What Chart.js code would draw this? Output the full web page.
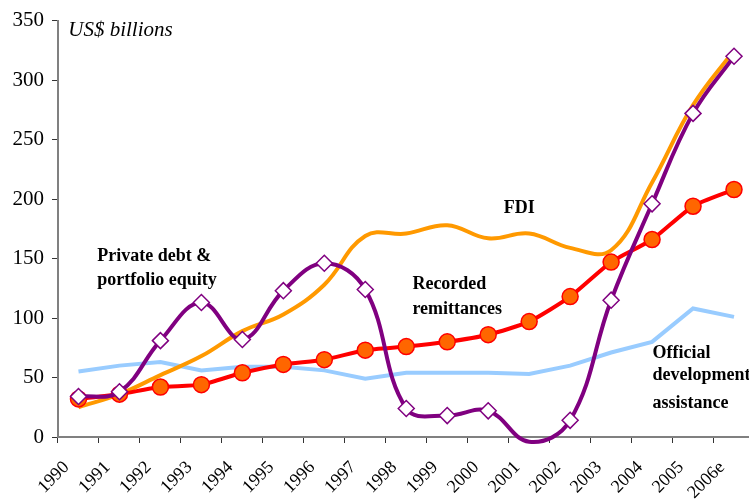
<!DOCTYPE html>
<html>
<head>
<meta charset="utf-8">
<script src="https://cdn.jsdelivr.net/npm/chart.js@4.4.1/dist/chart.umd.min.js"></script>
<style>
body { margin: 0; overflow: hidden; background: #fff; }
</style>
</head>
<body>
<canvas id="flowsChart" width="764" height="504"></canvas>
<script>
var years = ['1990', '1991', '1992', '1993', '1994', '1995', '1996', '1997', '1998', '1999', '2000', '2001', '2002', '2003', '2004', '2005', '2006e'];
var privateDebt = [34, 38, 81, 113, 82, 123, 146, 124, 24, 18, 22, -4, 14, 115, 196, 272, 320];
var remittances = [32, 36, 42, 44, 54, 61, 65, 73, 76, 80, 86, 97, 118, 147, 166, 194, 208];
var fdi = [25, 36, 52, 68, 89, 103, 128, 169, 171, 178, 167, 171, 159, 157, 214, 279, 325];
var oda = [55, 60, 63, 56, 59, 59, 56, 49, 54, 54, 54, 53, 60, 71, 80, 108, 101];
var yTicks = [0, 50, 100, 150, 200, 250, 300, 350];

// text labels placed in data units (category index, US$ billions)
var notes = [
    { text: 'US$ billions', x: -0.25, y: 337, font: "italic 21px 'Liberation Serif'" },
    { text: 'Private debt &', x: 0.46, y: 148 },
    { text: 'portfolio equity', x: 0.46, y: 128 },
    { text: 'FDI', x: 10.38, y: 188 },
    { text: 'Recorded', x: 8.15, y: 124 },
    { text: 'remittances', x: 8.15, y: 103 },
    { text: 'Official', x: 14.01, y: 66 },
    { text: 'development', x: 14.01, y: 48 },
    { text: 'assistance', x: 14.01, y: 24 }
];

var serif = "'Liberation Serif', 'Times New Roman', serif";

var notesPlugin = {
    id: 'notes',
    afterDatasetsDraw: function (chart) {
        var ctx = chart.ctx;
        var xs = chart.scales.x, ys = chart.scales.y;
        ctx.save();
        ctx.fillStyle = '#000';
        ctx.textAlign = 'left';
        ctx.textBaseline = 'alphabetic';
        notes.forEach(function (n) {
            ctx.font = n.font || ("bold 18px " + serif);
            ctx.fillText(n.text, xs.getPixelForValue(n.x), ys.getPixelForValue(n.y));
        });
        ctx.restore();
    }
};

var ctx = document.getElementById('flowsChart').getContext('2d');
new Chart(ctx, {
    type: 'line',
    data: {
        labels: years,
        datasets: [{
            label: 'Private debt & portfolio equity',
            data: privateDebt,
            borderColor: '#800080',
            borderWidth: 4,
            tension: 0.4,
            pointStyle: 'rectRot',
            pointRadius: function (c) { return c.raw < 0 ? 0 : 8; },
            pointBorderWidth: 1.5,
            pointBorderColor: '#800080',
            pointBackgroundColor: '#fff',
            clip: { left: false, top: false, right: false, bottom: 10 }
        }, {
            label: 'Recorded remittances',
            data: remittances,
            borderColor: '#ff0000',
            borderWidth: 4,
            tension: 0.2,
            pointStyle: 'circle',
            pointRadius: 8,
            pointBorderWidth: 1.5,
            pointBorderColor: '#ff0000',
            pointBackgroundColor: '#ff6600'
        }, {
            label: 'FDI',
            data: fdi,
            borderColor: '#ff9900',
            borderWidth: 4,
            tension: 0.4,
            pointRadius: 0
        }, {
            label: 'Official development assistance',
            data: oda,
            borderColor: '#99ccff',
            borderWidth: 4,
            tension: 0,
            pointRadius: 0
        }]
    },
    options: {
        responsive: false,
        animation: false,
        layout: { padding: { top: 19, right: 6, left: 0, bottom: 0 } },
        plugins: {
            legend: { display: false },
            tooltip: { enabled: false }
        },
        scales: {
            x: {
                offset: true,
                ticks: {
                    color: '#000',
                    font: { family: serif, size: 18 },
                    minRotation: 45,
                    maxRotation: 45,
                    autoSkip: false,
                    labelOffset: -12,
                    padding: 14
                },
                grid: { offset: true, drawOnChartArea: false, tickLength: 6, color: '#333' },
                border: { color: '#808080', width: 2 },
                afterFit: function (s) {
                    s.height = 67;
                    s.paddingLeft = 0;
                    s.paddingRight = 0;
                }
            },
            y: {
                min: 0,
                max: 350,
                afterBuildTicks: function (s) { s.ticks = yTicks.map(function (v) { return { value: v }; }); },
                ticks: {
                    color: '#000',
                    font: { family: serif, size: 21 },
                    padding: 8
                },
                grid: { drawOnChartArea: false, tickLength: 6, color: '#333' },
                border: { color: '#808080', width: 2 },
                afterFit: function (s) { s.width = 58; }
            }
        }
    },
    plugins: [notesPlugin]
});
</script>
</body>
</html>
